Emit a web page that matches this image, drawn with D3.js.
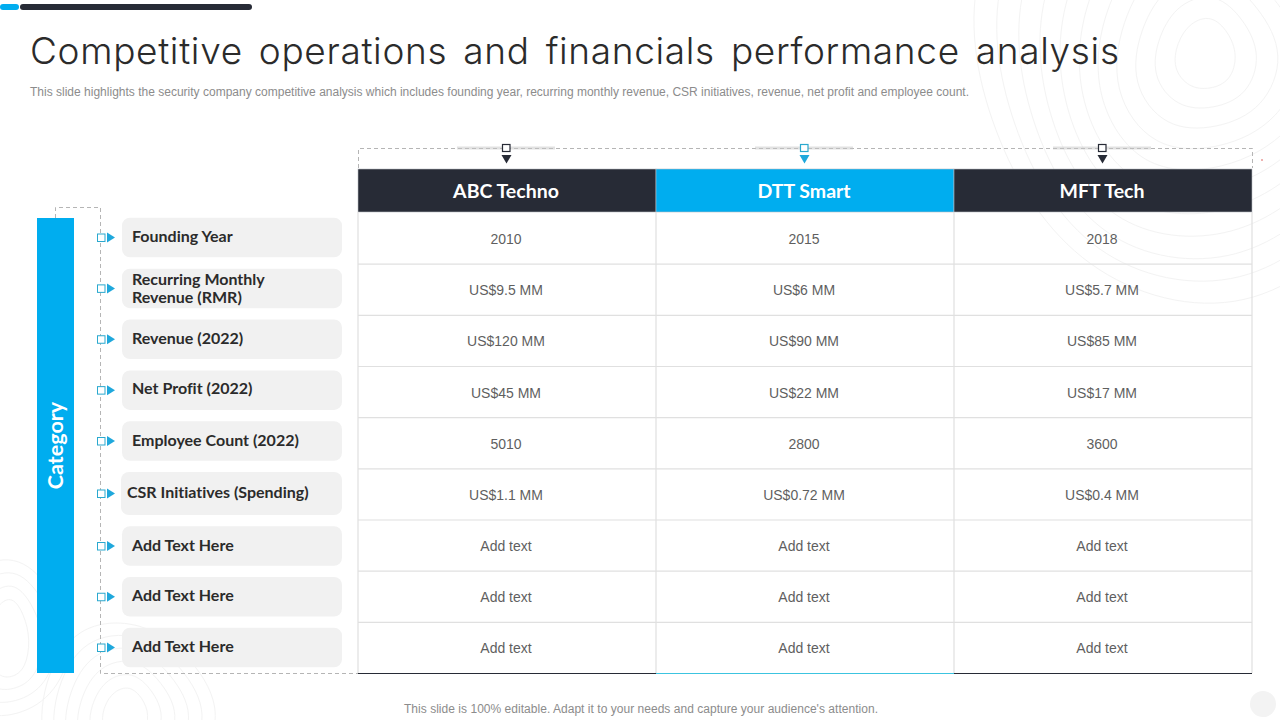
<!DOCTYPE html>
<html>
<head>
<title>Competitive operations and financials performance analysis</title>
<script src="https://d3js.org/d3.v7.min.js"></script>
<style>
  html, body { margin: 0; padding: 0; background: #fff; overflow: hidden; }
  svg { display: block; }
  text { font-family: "Liberation Sans", Arial, sans-serif; font-variant-ligatures: none; }
  .head { font-family: Lato, "Open Sans", sans-serif; }
  .title { font-family: Inter, Lato, sans-serif; }
</style>
</head>
<body>
<div id="chart"></div>
<script>
// table content
var companies = ["ABC Techno", "DTT Smart", "MFT Tech"];
var categories = ["Founding Year", "Recurring Monthly|Revenue (RMR)", "Revenue (2022)", "Net Profit (2022)",
  "Employee Count (2022)", "CSR Initiatives (Spending)", "Add Text Here", "Add Text Here", "Add Text Here"];
var abcValues = ["2010", "US$9.5 MM", "US$120 MM", "US$45 MM", "5010", "US$1.1 MM", "Add text", "Add text", "Add text"];
var dttValues = ["2015", "US$6 MM", "US$90 MM", "US$22 MM", "2800", "US$0.72 MM", "Add text", "Add text", "Add text"];
var mftValues = ["2018", "US$5.7 MM", "US$85 MM", "US$17 MM", "3600", "US$0.4 MM", "Add text", "Add text", "Add text"];
var titleText = "Competitive operations and financials performance analysis";
var subText = "This slide highlights the security company competitive analysis which includes founding year, recurring monthly revenue, CSR initiatives, revenue, net profit and employee count.";
var footText = "This slide is 100% editable. Adapt it to your needs and capture your audience's attention.";

var columnValues = [abcValues, dttValues, mftValues];
var blue = "#00adef", dark = "#272b36", grid = "#e0e0e0";

var svg = d3.select("#chart").append("svg").attr("width", 1280).attr("height", 720);

// faint contour lines in the corners
var contour = d3.line().curve(d3.curveBasisClosed);
function rings(cx, cy, n, step, rx, ry) {
  for (var i = 1; i <= n; i++) {
    var pts = d3.range(0, 6.28, 0.7).map(function(a, j) {
      var w = 1 + 0.08 * Math.sin(j * 2 + i * 0.3);
      return [cx + Math.cos(a) * (rx + i * step) * w, cy + Math.sin(a) * (ry + i * step) * w];
    });
    svg.append("path").attr("d", contour(pts)).attr("fill", "none").attr("stroke", "#f3f3f3").attr("stroke-width", 1);
  }
}
rings(1205, 55, 11, 22, 10, 16);
rings(8, 640, 4, 14, 8, 28);
rings(125, 715, 6, 14, 10, 14);

// top bars
svg.append("rect").attr("x", 0).attr("y", 4).attr("width", 19).attr("height", 6).attr("rx", 3).attr("fill", blue);
svg.append("rect").attr("x", 20).attr("y", 4).attr("width", 232).attr("height", 6).attr("rx", 3).attr("fill", dark);

// headings
svg.append("text").attr("class", "title").attr("x", 30).attr("y", 64)
  .attr("textLength", 1089).attr("lengthAdjust", "spacing")
  .style("font-size", "37px").style("font-weight", 300).style("word-spacing", "5px")
  .attr("fill", "#2b2b2b").text(titleText);
svg.append("text").attr("x", 30).attr("y", 96).attr("textLength", 939).attr("lengthAdjust", "spacing")
  .style("font-size", "12px").attr("fill", "#8c8c8c").text(subText);
svg.append("text").attr("x", 404).attr("y", 713).attr("textLength", 474).attr("lengthAdjust", "spacing")
  .style("font-size", "12px").attr("fill", "#8c8c8c").text(footText);

// scales
var x = d3.scaleBand().domain(d3.range(companies.length)).range([358, 1252]);
var y = d3.scaleBand().domain(d3.range(categories.length)).range([213, 673.5]);
// the category pills are not evenly spaced around the taller CSR one
var pillY = d3.scaleLinear().domain([0, 4, 5, 6, 8]).range([237.5, 441, 493.5, 546, 647.5]);

// dashed brackets
function dashed(d) {
  svg.append("path").attr("d", d).attr("fill", "none").attr("stroke", "#b5b5b5")
    .attr("stroke-width", 1).attr("stroke-dasharray", "4 3");
}
dashed("M358.5,168V148.5H1252.5V168");
dashed("M55.5,218V207.5H100.5V673.5H358");

// column headers
var heads = svg.append("g").selectAll("g").data(companies).enter().append("g");
heads.append("rect")
  .attr("x", function(d, i) { return x(i); }).attr("y", 169)
  .attr("width", x.bandwidth()).attr("height", 43)
  .attr("stroke", "#b9bcc2").attr("stroke-width", 0.6)
  .attr("fill", function(d, i) { return i == 1 ? blue : dark; });
heads.append("text")
  .attr("x", function(d, i) { return x(i) + x.bandwidth() / 2 - 1; }).attr("y", 198)
  .attr("text-anchor", "middle").attr("class", "head")
  .style("font-size", "19.5px").style("font-weight", 700).attr("fill", "#fff")
  .text(function(d) { return d; });

// column markers above the headers
var marks = svg.append("g").selectAll("g").data(companies).enter().append("g")
  .attr("transform", function(d, i) { return "translate(" + (x(i) + x.bandwidth() / 2 - 0.5) + ",0)"; });
marks.append("line").attr("x1", -49).attr("x2", 49).attr("y1", 148).attr("y2", 148)
  .attr("stroke", "#c4c4c4").attr("stroke-width", 3).attr("stroke-dasharray", "1 1");
marks.append("rect").attr("x", -4).attr("y", 144.5).attr("width", 7.5).attr("height", 7)
  .attr("fill", "#fff").attr("stroke", function(d, i) { return i == 1 ? "#2aa9cf" : dark; }).attr("stroke-width", 1.2);
marks.append("path").attr("d", "M-5,155H5L0,163.5Z")
  .attr("fill", function(d, i) { return i == 1 ? "#1fa8dc" : dark; });
svg.append("circle").attr("cx", 1262).attr("cy", 160).attr("r", 0.8).attr("fill", "#d9534f");

// grid
var rowEdges = d3.range(1, categories.length).map(function(i) { return y(i); });
svg.append("g").selectAll("line").data(rowEdges).enter().append("line")
  .attr("x1", 358).attr("x2", 1252)
  .attr("y1", function(d) { return d; }).attr("y2", function(d) { return d; })
  .attr("stroke", grid).attr("stroke-width", 1.2);
svg.append("g").selectAll("line").data(d3.range(companies.length + 1)).enter().append("line")
  .attr("x1", function(d) { return d == 3 ? 1252 : x(d); })
  .attr("x2", function(d) { return d == 3 ? 1252 : x(d); })
  .attr("y1", 212).attr("y2", 673)
  .attr("stroke", grid).attr("stroke-width", 1.2);
svg.append("g").selectAll("line").data(companies).enter().append("line")
  .attr("x1", function(d, i) { return x(i); })
  .attr("x2", function(d, i) { return x(i) + x.bandwidth(); })
  .attr("y1", 673.5).attr("y2", 673.5)
  .attr("stroke", function(d, i) { return i == 1 ? "#3cc4e0" : dark; }).attr("stroke-width", 1);

// cell values
columnValues.forEach(function(values, c) {
  svg.append("g").selectAll("text").data(values).enter().append("text")
    .attr("x", x(c) + x.bandwidth() / 2 - 1)
    .attr("y", function(d, i) { return y(i) + y.bandwidth() / 2 + 5.5; })
    .attr("text-anchor", "middle")
    .style("font-size", "14px").attr("fill", "#5f5f5f")
    .text(function(d) { return d; });
});

// category bar
svg.append("rect").attr("x", 37).attr("y", 218).attr("width", 37).attr("height", 455).attr("fill", blue);
svg.append("text").attr("class", "head")
  .attr("transform", "translate(62.5,445.5) rotate(-90)").attr("text-anchor", "middle")
  .style("font-size", "21.5px").style("font-weight", 700).attr("fill", "#fff").text("Category");

// category pills
var rows = svg.append("g").selectAll("g").data(categories).enter().append("g")
  .attr("transform", function(d, i) { return "translate(0," + pillY(i) + ")"; });
rows.append("rect")
  .attr("x", function(d, i) { return i == 5 ? 121 : 122; })
  .attr("y", function(d, i) { return i == 5 ? -21.5 : -19.75; })
  .attr("width", function(d, i) { return i == 5 ? 221 : 220; })
  .attr("height", function(d, i) { return i == 5 ? 43 : 39.5; })
  .attr("rx", 8).attr("fill", "#f1f1f1");
rows.append("rect").attr("x", 97.5).attr("y", -3.5).attr("width", 7.5).attr("height", 7.5)
  .attr("fill", "#fff").attr("stroke", "#2aa9cf").attr("stroke-width", 1);
rows.append("path").attr("d", "M107,-5V5L115,0Z").attr("fill", "#1fa8dc");
rows.each(function(d, i) {
  var lines = d.split("|");
  d3.select(this).selectAll("text").data(lines).enter().append("text")
    .attr("class", "head")
    .attr("x", i == 5 ? 127 : 132)
    .attr("y", function(l, k) { return lines.length > 1 ? -3.5 + k * 18 : (i == 3 ? 3.5 : 4.5); })
    .style("font-size", "16px").style("font-weight", 700).attr("fill", "#2b2b2b")
    .text(function(l) { return l; });
});

// small circle at the corner
svg.append("circle").attr("cx", 1263).attr("cy", 704).attr("r", 13).attr("fill", "#f3f3f3");
</script>
</body>
</html>
